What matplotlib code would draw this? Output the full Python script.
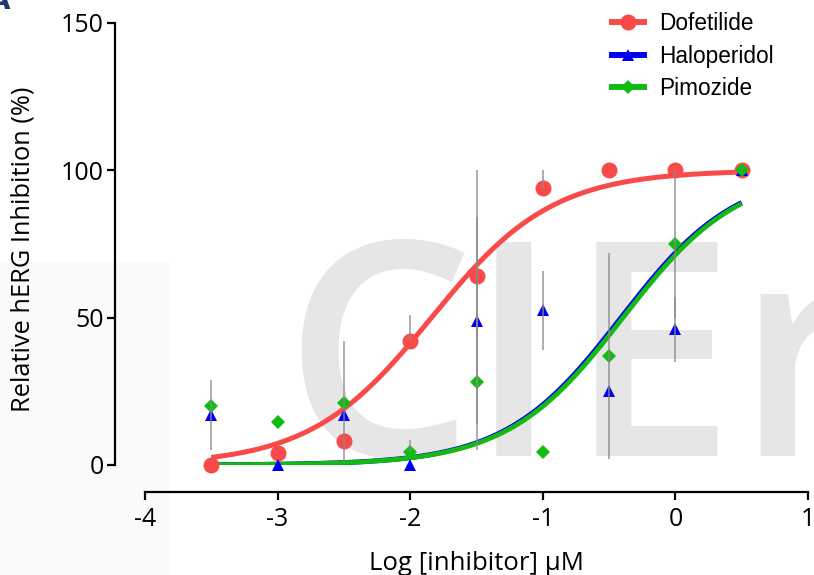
import numpy as np
import matplotlib
matplotlib.use("Agg")
import matplotlib.pyplot as plt
from matplotlib.patches import Rectangle

# ---------------- data ----------------
log_conc = [-3.5, -3.0, -2.5, -2.0, -1.5, -1.0, -0.5, 0.0, 0.5]

dofetilide = [0, 4, 8, 42, 64, 94, 100, 100, 100]
dofetilide_err_lo = [0, 0, 0, 0, 20, 0, 0, 0, 0]
dofetilide_err_hi = [0, 0, 0, 9, 36, 6, 0, 0, 0]

haloperidol = [17, 0, 17, 0, 49, 52.5, 25, 46, 100]
haloperidol_err_lo = [12, 0, 0, 0, 35, 13.5, 0, 11, 0]
haloperidol_err_hi = [12, 0, 0, 0, 35, 13.5, 0, 11, 0]

pimozide = [20, 14.5, 21, 4.5, 28, 4.5, 37, 75, 100]
pimozide_err_lo = [0, 0, 20, 0, 23, 0, 35, 25, 0]
pimozide_err_hi = [0, 0, 21, 4, 23, 0, 35, 25, 0]

# fitted sigmoid parameters (bottom, top, logIC50, hill)
fit_dofetilide = (0, 100, -1.84, 0.95)
fit_haloperidol = (0, 100, -0.41, 1.0)
fit_pimozide = (0, 100, -0.395, 1.0)

series_names = ["Dofetilide", "Haloperidol", "Pimozide"]
x_ticks = [-4, -3, -2, -1, 0, 1]
x_ticklabels = ["-4", "-3", "-2", "-1", "0", "1"]
y_ticks = [0, 50, 100, 150]

RED = "#f94a4a"
BLUE = "#0000f0"
GREEN = "#11bb11"

FONT = "Open Sans"

def sigmoid(x, p):
    b, t, ic, h = p
    return b + (t - b) / (1 + 10 ** ((ic - x) * h))

fig = plt.figure(figsize=(8.14, 5.75), dpi=100)

# light background panel
fig.patches.append(Rectangle((0, 0), 169 / 814, 1 - 263 / 575, transform=fig.transFigure,
                             color="#fafafa", zorder=-3))

# watermark
wm_y = 1 - 456 / 575
for ch, xc in zip("CIEr", [378, 514, 651, 800]):
    fig.text(xc / 814, wm_y, ch, fontsize=216, fontfamily=FONT, fontweight="semibold",
             color="#e6e6e6", ha="center", va="baseline", zorder=-2)

fig.text(-0.014, 1.022, "A", fontsize=20, fontweight="bold", color="#1e3a70",
         ha="left", va="top")

ax = fig.add_axes([145 / 814, 1 - 465 / 575, 663 / 814, 442 / 575])
ax.patch.set_visible(False)
ax.set_xlim(-4, 1)
ax.set_ylim(0, 150)

xs = np.linspace(log_conc[0], log_conc[-1], 300)
ax.plot(xs, sigmoid(xs, fit_dofetilide), color=RED, lw=3.6, zorder=3, solid_capstyle="butt")
ax.plot(xs, sigmoid(xs, fit_haloperidol), color=BLUE, lw=3.6, zorder=3, solid_capstyle="butt")
ax.plot(xs, sigmoid(xs, fit_pimozide), color=GREEN, lw=3.4, zorder=3.1, solid_capstyle="butt")

specs = [
    (dofetilide, dofetilide_err_lo, dofetilide_err_hi, RED, "o", 11.5),
    (haloperidol, haloperidol_err_lo, haloperidol_err_hi, BLUE, "^", 8.5),
    (pimozide, pimozide_err_lo, pimozide_err_hi, GREEN, "D", 7),
]
for (vals, lo, hi, col, mk, ms) in specs:
    ax.plot(log_conc, vals, linestyle="none", marker=mk, markersize=ms, color=col,
            markeredgewidth=0, zorder=4, clip_on=False)
    ax.errorbar(log_conc, vals, yerr=[lo, hi], fmt="none", ecolor="#8a8a8a",
                elinewidth=1.3, alpha=0.75, capsize=0, zorder=5, clip_on=False)

# legend handles
handles = []
for name, (vals, lo, hi, col, mk, ms) in zip(series_names, specs):
    h, = ax.plot([], [], color=col, lw=4.3, marker=mk, markersize=ms, markeredgewidth=0)
    handles.append(h)
leg = ax.legend(handles, series_names, loc="upper left", bbox_to_anchor=(612 / 814, 1 - 12 / 575),
                bbox_transform=fig.transFigure, frameon=False,
                prop={"family": "Liberation Sans", "size": 16.3},
                handlelength=1.4, handletextpad=0.7, labelspacing=0.42, borderpad=0, borderaxespad=0)

for s in ["top", "right"]:
    ax.spines[s].set_visible(False)
ax.spines["left"].set_position(("outward", 21.6))
ax.spines["bottom"].set_position(("outward", 19.4))
for s in ["left", "bottom"]:
    ax.spines[s].set_linewidth(1.6)
ax.tick_params(direction="out", length=6, width=1.6, colors="black")
ax.tick_params(axis="y", pad=2)
ax.tick_params(axis="x", pad=5)
ax.set_xticks(x_ticks)
ax.set_xticklabels(x_ticklabels)
ax.set_yticks(y_ticks)
for lab in ax.get_xticklabels() + ax.get_yticklabels():
    lab.set_fontfamily(FONT)
    lab.set_fontsize(18)

fig.text(23 / 814, 1 - 249 / 575, "Relative hERG Inhibition (%)", rotation=90,
         ha="center", va="center", fontsize=18.3, fontfamily=FONT)
fig.text(476 / 814, 1 - 563 / 575, "Log [inhibitor] \u03bcM", ha="center", va="center",
         fontsize=18.5, fontfamily=FONT)

fig.savefig("out.png", dpi=100)
